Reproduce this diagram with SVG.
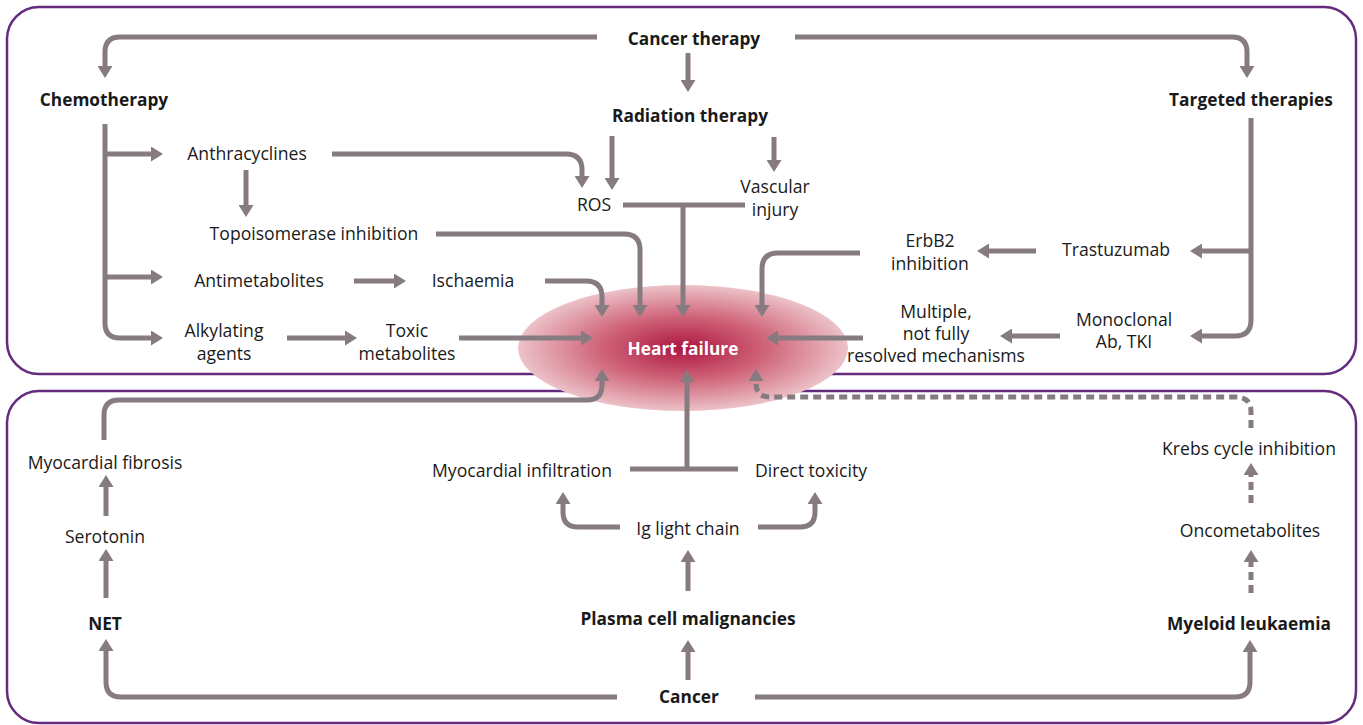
<svg xmlns="http://www.w3.org/2000/svg" width="1363" height="725" viewBox="0 0 1363 725">
<style>
.panel{fill:#fff;stroke:#632a7d;stroke-width:2.5}
.c{fill:none;stroke:#867b81;stroke-width:5}
.d{stroke-dasharray:8 5}
text{font-family:"Open Sans","Noto Sans","Liberation Sans",sans-serif;font-size:17.6px;fill:#1a1a1a;text-anchor:middle}
.b{font-weight:bold;font-size:17.3px}
.hf{fill:#fff;font-weight:bold;font-size:17.3px}
</style>
<defs>
<marker id="ah" viewBox="0 0 12 15" refX="0" refY="7.5" markerWidth="12" markerHeight="15" markerUnits="userSpaceOnUse" orient="auto">
<path d="M0,0 L12,7.5 L0,15 Z" fill="#867b81"/>
</marker>
<radialGradient id="hfg" cx="50%" cy="50%" r="50%">
<stop offset="0" stop-color="#ad1640"/>
<stop offset="0.5" stop-color="#cf6479"/>
<stop offset="1" stop-color="#ecc2c8"/>
</radialGradient>
</defs>
<rect class="panel" x="7" y="7" width="1349" height="367" rx="32"/>
<rect class="panel" x="7" y="391" width="1349" height="332" rx="32"/>
<g id="heart-failure">
<ellipse cx="683" cy="348" rx="165" ry="63" fill="url(#hfg)"/>
<text class="hf" x="683" y="355">Heart failure</text>
</g>
<g id="connectors" class="c">
<path class="c" marker-end="url(#ah)" d="M597,37 H120 Q105,37 105,52 V66"/>
<path class="c" marker-end="url(#ah)" d="M795,37 H1232 Q1247,37 1247,52 V66"/>
<path class="c" marker-end="url(#ah)" d="M688,53 V80"/>
<path class="c" marker-end="url(#ah)" d="M105,124 V323 Q105,338 120,338 H151"/>
<path class="c" marker-end="url(#ah)" d="M105,154 H151"/>
<path class="c" marker-end="url(#ah)" d="M105,277 H151"/>
<path class="c" marker-end="url(#ah)" d="M246,170 V205"/>
<path class="c" marker-end="url(#ah)" d="M332,154 H566 Q582,154 582,170 V176"/>
<path class="c" marker-end="url(#ah)" d="M612,136 V178"/>
<path class="c" marker-end="url(#ah)" d="M774,137 V160"/>
<path class="c" d="M623,205 H745"/>
<path class="c" marker-end="url(#ah)" d="M683,205 V305"/>
<path class="c" marker-end="url(#ah)" d="M436,234 H624 Q640,234 640,250 V305"/>
<path class="c" marker-end="url(#ah)" d="M354,281 H394"/>
<path class="c" marker-end="url(#ah)" d="M545,281 H586 Q602,281 602,297 V305"/>
<path class="c" marker-end="url(#ah)" d="M287,338 H345"/>
<path class="c" marker-end="url(#ah)" d="M459,338 H581"/>
<path class="c" marker-end="url(#ah)" d="M860,253 H778 Q762,253 762,269 V305"/>
<path class="c" marker-end="url(#ah)" d="M1036,251 H989"/>
<path class="c" marker-end="url(#ah)" d="M1251,118 V320 Q1251,336 1235,336 H1202"/>
<path class="c" marker-end="url(#ah)" d="M1251,251 H1202"/>
<path class="c" marker-end="url(#ah)" d="M1060,336 H1012"/>
<path class="c" marker-end="url(#ah)" d="M863,338 H778"/>
<path class="c" marker-end="url(#ah)" d="M617,697 H121 Q106,697 106,682 V651"/>
<path class="c" marker-end="url(#ah)" d="M755,697 H1235 Q1250,697 1250,682 V652"/>
<path class="c" marker-end="url(#ah)" d="M688,680 V652"/>
<path class="c" marker-end="url(#ah)" d="M106,598 V561"/>
<path class="c" marker-end="url(#ah)" d="M106,516 V487"/>
<path class="c" marker-end="url(#ah)" d="M104,440 V415 Q104,400 119,400 H587 Q602,400 602,385 V381"/>
<path class="c" marker-end="url(#ah)" d="M688,591 V562"/>
<path class="c" marker-end="url(#ah)" d="M620,527 H578 Q563,527 563,512 V504"/>
<path class="c" marker-end="url(#ah)" d="M758,527 H800 Q815,527 815,512 V504"/>
<path class="c" d="M630,469 H738"/>
<path class="c" marker-end="url(#ah)" d="M687,469 V382"/>
<path class="c d" marker-end="url(#ah)" d="M1251,593 V562"/>
<path class="c d" marker-end="url(#ah)" d="M1251,503 V475"/>
<path class="c d" marker-end="url(#ah)" d="M1251,428 V412 Q1251,397 1236,397 H770 Q756,397 756,383 V381"/>
</g>
<g id="cancer-therapy"><text class="b" x="694" y="45">Cancer therapy</text></g>
<g id="chemotherapy"><text class="b" x="104" y="106">Chemotherapy</text></g>
<g id="radiation-therapy"><text class="b" x="690" y="122">Radiation therapy</text></g>
<g id="targeted-therapies"><text class="b" x="1251" y="106">Targeted therapies</text></g>
<g id="anthracyclines"><text x="247" y="160">Anthracyclines</text></g>
<g id="ros"><text x="594" y="211">ROS</text></g>
<g id="vascular-injury"><text x="775" y="193">Vascular</text><text x="775" y="216">injury</text></g>
<g id="topoisomerase"><text x="314" y="240">Topoisomerase inhibition</text></g>
<g id="erbb2"><text x="930" y="247">ErbB2</text><text x="930" y="270">inhibition</text></g>
<g id="trastuzumab"><text x="1116" y="256">Trastuzumab</text></g>
<g id="antimetabolites"><text x="259" y="287">Antimetabolites</text></g>
<g id="ischaemia"><text x="473" y="287">Ischaemia</text></g>
<g id="alkylating"><text x="224" y="337">Alkylating</text><text x="224" y="360">agents</text></g>
<g id="toxic-metabolites"><text x="407" y="337">Toxic</text><text x="407" y="360">metabolites</text></g>
<g id="multiple"><text x="936" y="318">Multiple,</text><text x="936" y="340">not fully</text><text x="936" y="362">resolved mechanisms</text></g>
<g id="monoclonal"><text x="1124" y="326">Monoclonal</text><text x="1124" y="348">Ab, TKI</text></g>
<g id="myocardial-fibrosis"><text x="105" y="469">Myocardial fibrosis</text></g>
<g id="myocardial-infiltration"><text x="522" y="477">Myocardial infiltration</text></g>
<g id="direct-toxicity"><text x="811" y="477">Direct toxicity</text></g>
<g id="ig-light-chain"><text x="688" y="535">Ig light chain</text></g>
<g id="serotonin"><text x="105" y="543">Serotonin</text></g>
<g id="oncometabolites"><text x="1250" y="537">Oncometabolites</text></g>
<g id="krebs"><text x="1249" y="455">Krebs cycle inhibition</text></g>
<g id="net"><text class="b" x="105" y="630">NET</text></g>
<g id="plasma-cell"><text class="b" x="688" y="625">Plasma cell malignancies</text></g>
<g id="myeloid-leukaemia"><text class="b" x="1249" y="630">Myeloid leukaemia</text></g>
<g id="cancer"><text class="b" x="689" y="703">Cancer</text></g>
</svg>
